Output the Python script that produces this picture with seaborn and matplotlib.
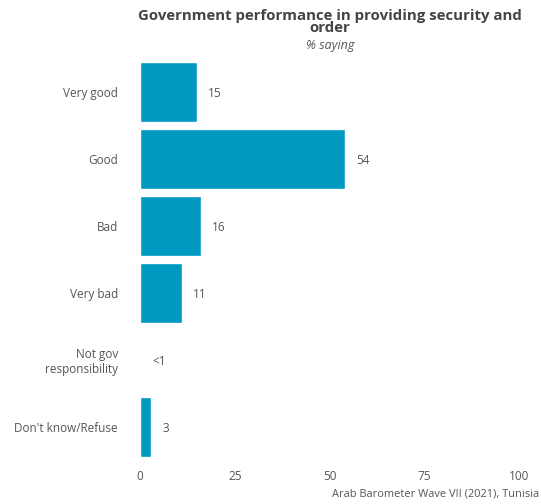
import matplotlib
matplotlib.use("Agg")
import matplotlib.pyplot as plt
import seaborn as sns
import pandas as pd

categories = ["Very good", "Good", "Bad", "Very bad", "Not gov\nresponsibility", "Don't know/Refuse"]
values = [15, 54, 16, 11, 0.3, 3]
labels = ["15", "54", "16", "11", "<1", "3"]
x_ticks = [0, 25, 50, 75, 100]

df = pd.DataFrame({"category": categories, "value": values, "label": labels})

sns.set_theme(style="white")
plt.rcParams["font.family"] = ["Open Sans", "DejaVu Sans"]

fig = plt.figure(figsize=(5.41, 5.04), dpi=100)
ax = fig.add_axes([140 / 541, 1 - 460.5 / 504, 379 / 541, 402 / 504])

sns.barplot(data=df, x="value", y="category", color="#0099C0", saturation=1,
            width=0.9, ax=ax)

for i, row in df.iterrows():
    ax.annotate(row["label"], (row["value"], i), xytext=(8, 0), textcoords="offset points",
                va="center_baseline", ha="left", fontsize=8.5, color="#555555")

ax.set_xlim(0, 100)
ax.set_ylim(5.5, -0.5)
ax.set_xticks(x_ticks)
ax.set_xticklabels([str(t) for t in x_ticks], fontsize=8.5, color="#555555")
ax.tick_params(axis="y", labelsize=8.5, labelcolor="#555555", length=0, pad=16)
ax.tick_params(axis="x", length=0, pad=7)
for lab in ax.get_yticklabels():
    lab.set_horizontalalignment("right")
ax.set_xlabel("")
ax.set_ylabel("")
sns.despine(ax=ax, left=True, bottom=True)

fig.text(330 / 541, 1 - 22 / 504, "Government performance in providing security and\norder",
         ha="center", va="center", fontsize=10.8, fontweight="bold", color="#444444",
         linespacing=0.9)
fig.text(330 / 541, 1 - 45 / 504, "% saying", ha="center", va="center",
         fontsize=9, style="italic", color="#555555")
fig.text(539 / 541, 1 - 494 / 504, "Arab Barometer Wave VII (2021), Tunisia",
         ha="right", va="center", fontsize=7.9, color="#555555")

fig.savefig("out.png", dpi=100)
